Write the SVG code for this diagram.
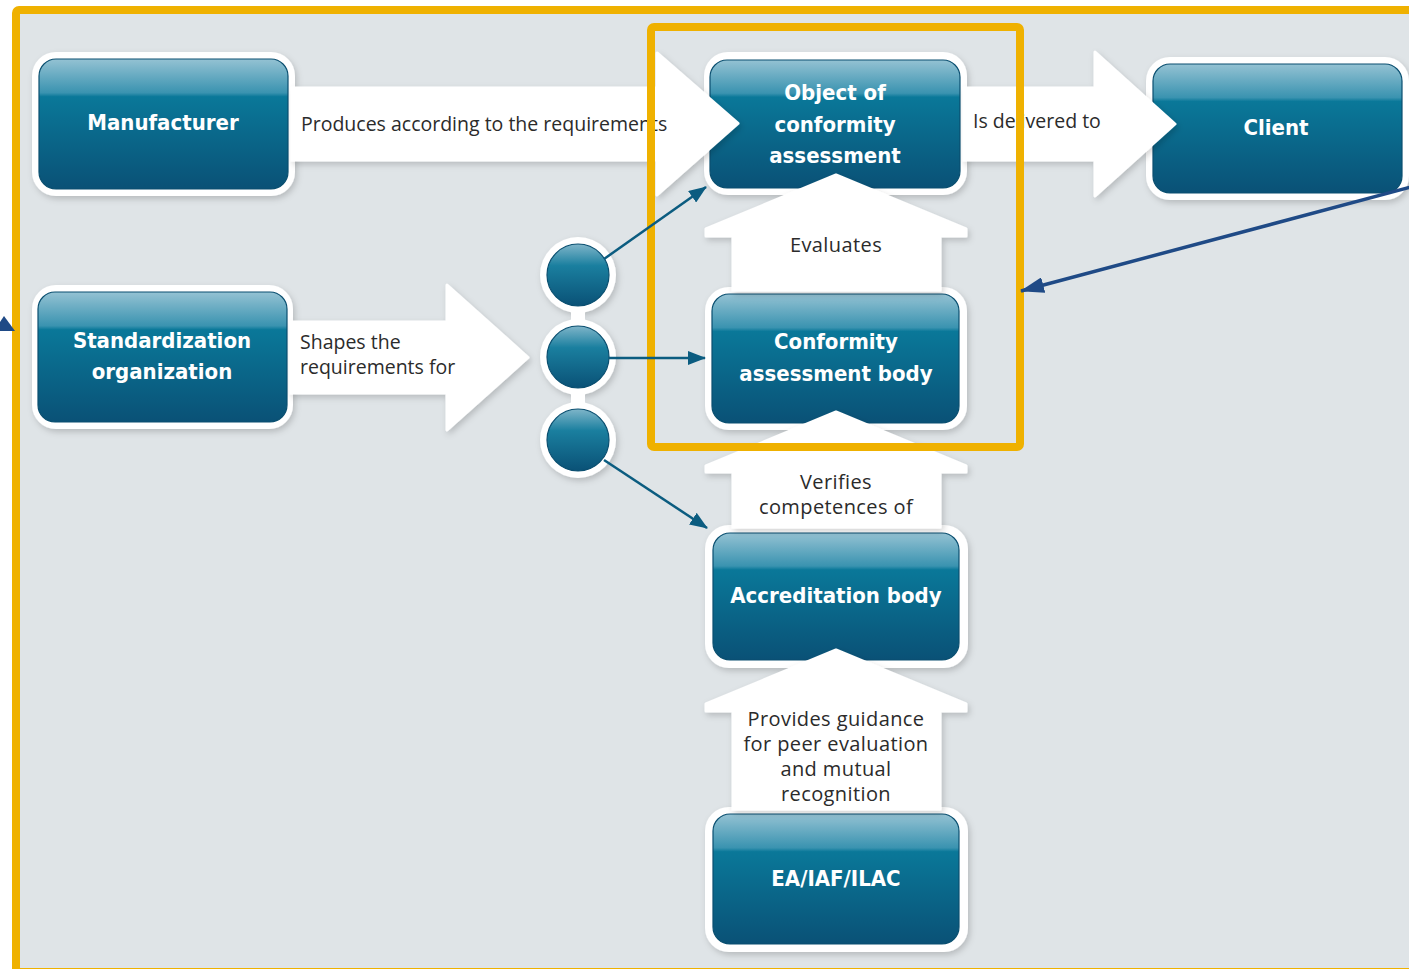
<svg xmlns="http://www.w3.org/2000/svg" width="1409" height="969" viewBox="0 0 1409 969">
<defs>
<linearGradient id="blue" x1="0" y1="0" x2="0" y2="1">
<stop offset="0" stop-color="#94c2d3"/>
<stop offset="0.26" stop-color="#3a93b0"/>
<stop offset="0.29" stop-color="#0a7899"/>
<stop offset="1" stop-color="#0a5176"/>
</linearGradient>
<linearGradient id="dot" x1="0" y1="0" x2="0" y2="1">
<stop offset="0" stop-color="#7fb5c9"/>
<stop offset="0.35" stop-color="#1a7f9f"/>
<stop offset="1" stop-color="#0a5176"/>
</linearGradient>
<filter id="sh" x="-10%" y="-10%" width="125%" height="130%">
<feDropShadow dx="2" dy="3" stdDeviation="3" flood-color="#000" flood-opacity="0.18"/>
</filter>
<marker id="mt" markerUnits="userSpaceOnUse" markerWidth="18" markerHeight="14" refX="17" refY="7" orient="auto">
<path d="M0,0 L18,7 L0,14 Z" fill="#0b5c80"/>
</marker>
<marker id="mn" markerUnits="userSpaceOnUse" markerWidth="24" markerHeight="16" refX="23" refY="8" orient="auto">
<path d="M0,0 L24,8 L0,16 Z" fill="#1f4a86"/>
</marker>
<style>
.outer{fill:#fff;filter:url(#sh)}
.inner{fill:url(#blue);stroke:#0a4f70;stroke-width:1.2}
.nt{font-family:"DejaVu Sans Condensed","DejaVu Sans",sans-serif;font-weight:bold;font-stretch:condensed;font-size:22px;fill:#fff;text-anchor:middle}
.lab{font-family:"Open Sans","Noto Sans",sans-serif;font-size:19.5px;fill:#2b2b2b}
.mid{text-anchor:middle;font-size:20px;letter-spacing:0.4px}
.arr{fill:#fff;stroke:#fff;stroke-width:3;stroke-linejoin:round;filter:url(#sh)}
.con{stroke:#0b5c80;stroke-width:2.5;fill:none}
.ybox{fill:none;stroke:#efb100;stroke-width:8}
</style>
</defs>
<rect x="0" y="0" width="1409" height="969" fill="#fff"/>
<rect x="16" y="10" width="1420" height="962" fill="#dfe4e7"/>

<g id="nodes">
<g id="manufacturer">
<rect class="outer" x="32" y="52" width="263" height="144" rx="24"/>
<rect class="inner" x="39" y="59" width="249" height="130" rx="17"/>
<text class="nt" x="163" y="130">Manufacturer</text>
</g>
<g id="object">
<rect class="outer" x="704" y="52" width="263" height="143" rx="24"/>
<rect class="inner" x="710" y="60" width="250" height="128" rx="17"/>
<text class="nt" x="835" y="100">Object of</text>
<text class="nt" x="835" y="132">conformity</text>
<text class="nt" x="835" y="163">assessment</text>
</g>
<g id="client">
<rect class="outer" x="1146" y="57" width="263" height="143" rx="24"/>
<rect class="inner" x="1153" y="64" width="249" height="129" rx="17"/>
<text class="nt" x="1276" y="135">Client</text>
</g>
<g id="standardization">
<rect class="outer" x="32" y="285" width="261" height="144" rx="24"/>
<rect class="inner" x="38" y="292" width="249" height="130" rx="17"/>
<text class="nt" x="162" y="348">Standardization</text>
<text class="nt" x="162" y="379">organization</text>
</g>
<g id="cab">
<rect class="outer" x="705" y="287" width="262" height="143" rx="24"/>
<rect class="inner" x="712" y="294" width="247" height="129" rx="17"/>
<text class="nt" x="836" y="349">Conformity</text>
<text class="nt" x="836" y="381">assessment body</text>
</g>
<g id="accreditation">
<rect class="outer" x="705" y="525" width="263" height="143" rx="24"/>
<rect class="inner" x="713" y="533" width="246" height="127" rx="17"/>
<text class="nt" x="836" y="603">Accreditation body</text>
</g>
<g id="ea">
<rect class="outer" x="705" y="807" width="263" height="145" rx="24"/>
<rect class="inner" x="713" y="814" width="246" height="130" rx="17"/>
<text class="nt" x="836" y="886">EA/IAF/ILAC</text>
</g>
<g id="dots">
<rect x="571" y="275" width="14" height="165" fill="#fff"/>
<circle cx="578" cy="275" r="38" class="outer"/>
<circle cx="578" cy="357" r="38" class="outer"/>
<circle cx="578" cy="440" r="38" class="outer"/>
<rect x="571" y="300" width="14" height="115" fill="#fff"/>
<circle cx="578" cy="275" r="31" fill="url(#dot)" stroke="#0a4f70" stroke-width="1.2"/>
<circle cx="578" cy="357" r="31" fill="url(#dot)" stroke="#0a4f70" stroke-width="1.2"/>
<circle cx="578" cy="440" r="31" fill="url(#dot)" stroke="#0a4f70" stroke-width="1.2"/>
</g>
</g>

<g id="relations">
<g id="produces">
<path class="arr" d="M292,88 H657 V53 L738,123.5 L657,195 V160 H292 Z"/>
<text class="lab" x="301" y="131">Produces according to the requirements</text>
</g>
<g id="delivered">
<path class="arr" d="M964,88 H1095 V52 L1175,124 L1095,196 V160 H964 Z"/>
<text class="lab" x="973" y="128">Is delivered to</text>
</g>
<g id="shapes">
<path class="arr" d="M291,322 H447 V285 L528,357.5 L447,430 V393 H291 Z"/>
<text class="lab" x="300" y="349">Shapes the</text>
<text class="lab" x="300" y="374">requirements for</text>
</g>
<g id="evaluates">
<path class="arr" d="M836,175 L966,229 V236 H940 V290 H733 V236 H706 V229 Z"/>
<text class="lab mid" x="836" y="252">Evaluates</text>
</g>
<g id="verifies">
<path class="arr" d="M836,412 L966,466 V472 H940 V527 H733 V472 H706 V466 Z"/>
<text class="lab mid" x="836" y="489">Verifies</text>
<text class="lab mid" x="836" y="514">competences of</text>
</g>
<g id="guidance">
<path class="arr" d="M836,650 L966,704 V711 H940 V809 H733 V711 H706 V704 Z"/>
<text class="lab mid" x="836" y="726">Provides guidance</text>
<text class="lab mid" x="836" y="751">for peer evaluation</text>
<text class="lab mid" x="836" y="776">and mutual</text>
<text class="lab mid" x="836" y="801">recognition</text>
</g>
</g>

<g id="frames">
<rect class="ybox" x="16" y="10" width="1420" height="962" rx="3"/>
<rect class="ybox" x="651" y="27" width="369" height="420" rx="3"/>
</g>

<g id="connectors">
<line class="con" x1="604" y1="259" x2="706" y2="187" marker-end="url(#mt)"/>
<line class="con" x1="609" y1="358" x2="705" y2="358" marker-end="url(#mt)"/>
<line class="con" x1="604" y1="460" x2="707" y2="528" marker-end="url(#mt)"/>
<line x1="1411" y1="187" x2="1021" y2="291" stroke="#1f4a86" stroke-width="3.5" marker-end="url(#mn)"/>
<polygon points="4,316 15,331 -6,331" fill="#1f4a86"/>
</g>
</svg>
